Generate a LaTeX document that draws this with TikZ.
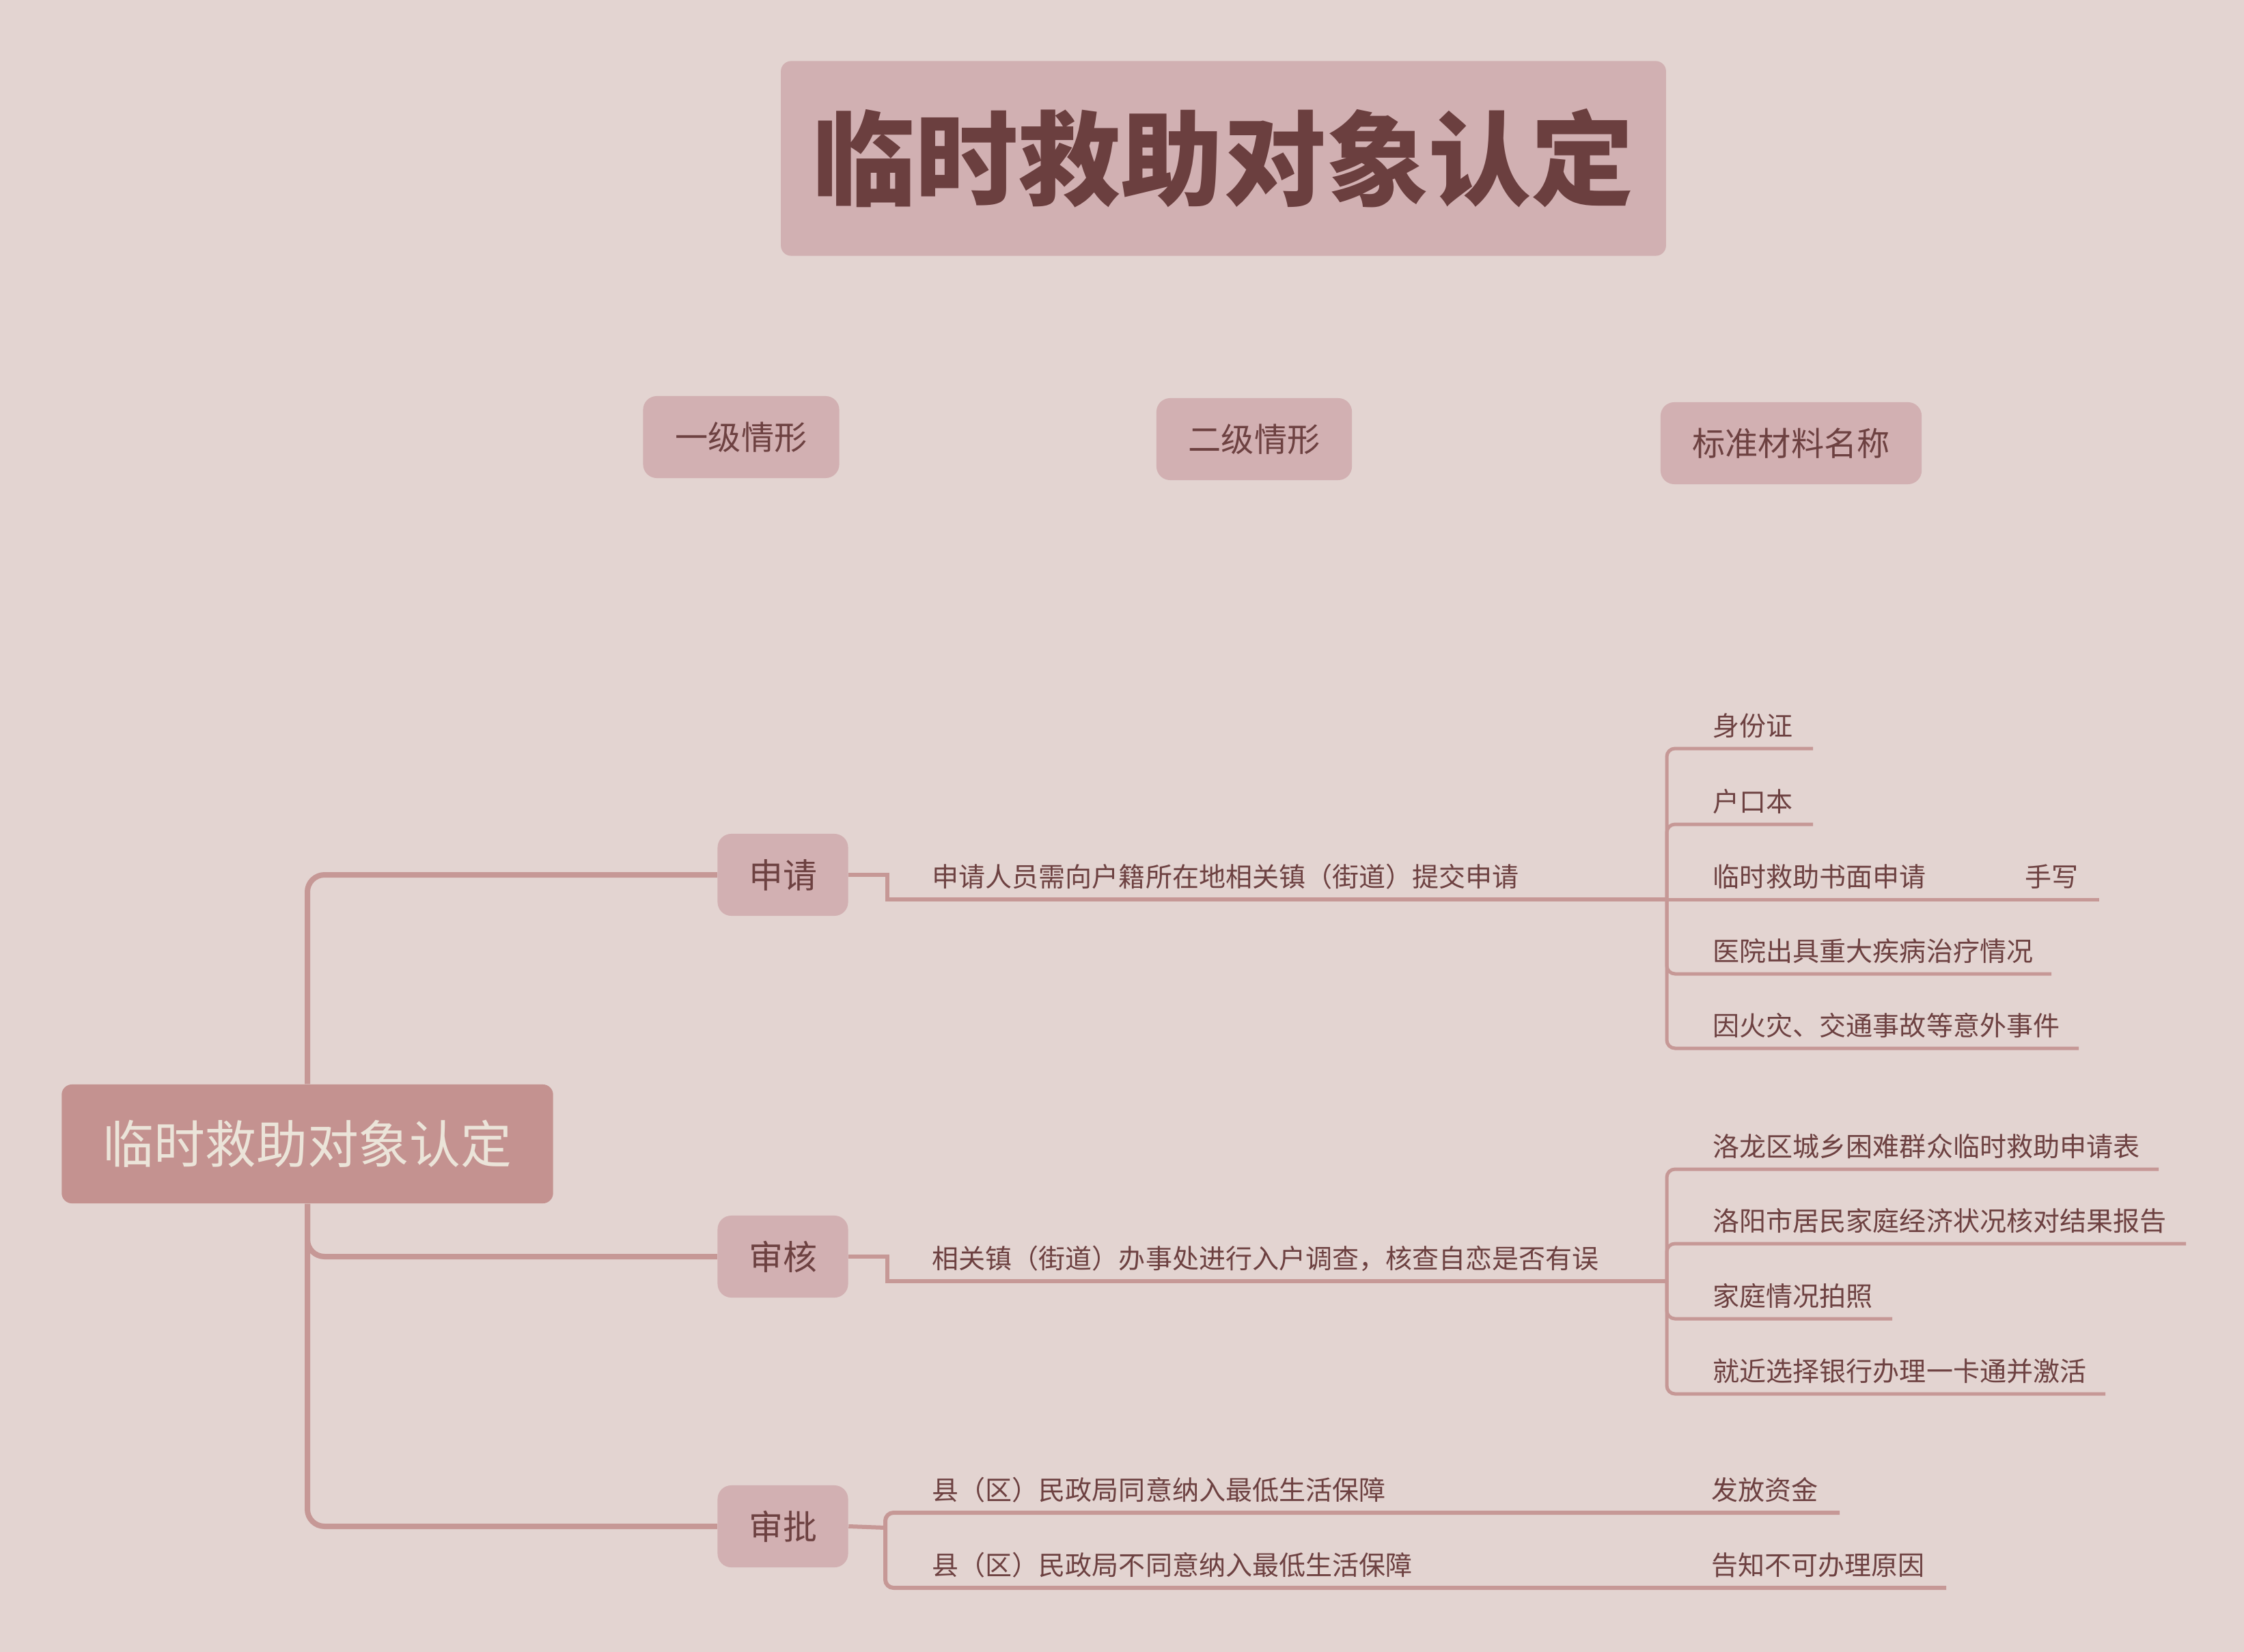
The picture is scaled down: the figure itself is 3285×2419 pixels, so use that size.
\documentclass[tikz,border=0pt]{standalone}
\usepackage{fontspec}
\newfontfamily\cjk{Noto Sans CJK SC}
\definecolor{bgc}{HTML}{E3D4D1}
\definecolor{titlefill}{HTML}{D1B0B2}
\definecolor{boxfill}{HTML}{D2B0B2}
\definecolor{rootfill}{HTML}{C49290}
\definecolor{roottext}{HTML}{EBE4D9}
\definecolor{txt}{HTML}{6D4141}
\definecolor{titletext}{HTML}{6B3F3F}
\definecolor{linec}{HTML}{C69896}
\tikzset{
  titlebox/.style={fill=titlefill, rounded corners=0.15cm, minimum width=12.95cm, minimum height=2.85cm, inner sep=0pt, text=titletext, font=\cjk\bfseries\fontsize{42.7pt}{48pt}\selectfont},
  hdr/.style={fill=boxfill, rounded corners=0.2cm, minimum height=1.2cm, inner sep=0pt, text=txt, font=\cjk\fontsize{13.7pt}{16pt}\selectfont},
  lvlone/.style={fill=boxfill, rounded corners=0.2cm, minimum width=1.91cm, minimum height=1.2cm, inner sep=0pt, text=txt, font=\cjk\fontsize{14.2pt}{16pt}\selectfont},
  rootbox/.style={fill=rootfill, rounded corners=0.15cm, minimum width=7.19cm, minimum height=1.74cm, inner sep=0pt, text=roottext, font=\cjk\fontsize{21.3pt}{24pt}\selectfont},
  lbl/.style={anchor=base west, inner sep=0pt, text=txt, font=\cjk\fontsize{11.1pt}{13pt}\selectfont},
  trunk/.style={draw=linec, line width=0.08cm, rounded corners=0.25cm},
  branch/.style={draw=linec, line width=0.06cm},
  leafline/.style={draw=linec, line width=0.05cm, rounded corners=0.12cm}
}
\begin{document}
\begin{tikzpicture}[x=0.01cm,y=-0.01cm]
\fill[bgc] (0,0) rectangle (3285,2419);
\useasboundingbox (0,0) rectangle (3285,2419);

% title
\node[titlebox] (title) at (1791,232) {临时救助对象认定};

% headers
\node[hdr, minimum width=2.87cm] (h1) at (1085,640) {一级情形};
\node[hdr, minimum width=2.86cm] (h2) at (1836,643) {二级情形};
\node[hdr, minimum width=3.82cm] (h3) at (2622,649) {标准材料名称};

% root and level one
\node[rootbox] (root) at (450,1675) {临时救助对象认定};
\node[lvlone] (a1) at (1146,1281) {申请};
\node[lvlone] (a2) at (1146,1840) {审核};
\node[lvlone] (a3) at (1146,2235) {审批};

\draw[trunk] (root.north) |- (a1.west);
\draw[trunk] (root.south) |- (a2.west);
\draw[trunk] (root.south) |- (a3.west);

% ---- 申请 ----
\coordinate (s1) at (1299,1317);
\coordinate (b1) at (2440,1317);
\draw[branch] (a1.east) -| (s1) -- (b1);
\node[lbl] (m1) at (1364,1298) {申请人员需向户籍所在地相关镇（街道）提交申请};

\coordinate (l1e) at (2654,1096);
\coordinate (l2e) at (2654,1207);
\coordinate (l3e) at (3073,1317);
\coordinate (l4e) at (3003,1426);
\coordinate (l5e) at (3043,1535);
\draw[leafline] (b1) |- (l1e);
\draw[leafline] (b1) |- (l2e);
\draw[leafline] (b1) -- (l3e);
\draw[leafline] (b1) |- (l4e);
\draw[leafline] (b1) |- (l5e);
\node[lbl] (l1) at (2507,1077) {身份证};
\node[lbl] (l2) at (2507,1188) {户口本};
\node[lbl] (l3) at (2507,1298) {临时救助书面申请};
\node[lbl] (l3b) at (2964,1298) {手写};
\node[lbl] (l4) at (2507,1407) {医院出具重大疾病治疗情况};
\node[lbl] (l5) at (2507,1516) {因火灾、交通事故等意外事件};

% ---- 审核 ----
\coordinate (s2) at (1299,1876);
\coordinate (b2) at (2440,1876);
\draw[branch] (a2.east) -| (s2) -- (b2);
\node[lbl] (m2) at (1364,1857) {相关镇（街道）办事处进行入户调查，核查自恋是否有误};

\coordinate (k1e) at (3160,1712);
\coordinate (k2e) at (3200,1821);
\coordinate (k3e) at (2770,1931);
\coordinate (k4e) at (3082,2041);
\draw[leafline] (b2) |- (k1e);
\draw[leafline] (b2) |- (k2e);
\draw[leafline] (b2) |- (k3e);
\draw[leafline] (b2) |- (k4e);
\node[lbl] (k1) at (2507,1693) {洛龙区城乡困难群众临时救助申请表};
\node[lbl] (k2) at (2507,1802) {洛阳市居民家庭经济状况核对结果报告};
\node[lbl] (k3) at (2507,1912) {家庭情况拍照};
\node[lbl] (k4) at (2507,2022) {就近选择银行办理一卡通并激活};

% ---- 审批 ----
\coordinate (s3) at (1296,2237);
\coordinate (c1e) at (2693,2215);
\coordinate (c2e) at (2849,2325);
\draw[branch] (a3.east) -- (s3);
\draw[branch, rounded corners=0.12cm] (s3) |- (c1e);
\draw[branch, rounded corners=0.12cm] (s3) |- (c2e);
\node[lbl] (n1) at (1364,2196) {县（区）民政局同意纳入最低生活保障};
\node[lbl] (n2) at (1364,2306) {县（区）民政局不同意纳入最低生活保障};
\node[lbl] (p1) at (2505,2196) {发放资金};
\node[lbl] (p2) at (2505,2306) {告知不可办理原因};
\end{tikzpicture}
\end{document}
